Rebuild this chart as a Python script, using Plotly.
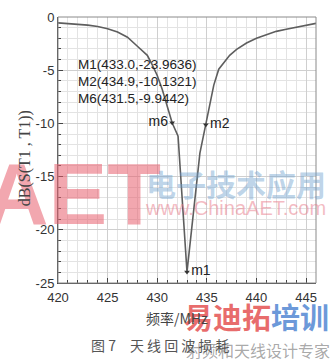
import plotly.graph_objects as go

# ---- data ----
freq_mhz = [420, 421, 422, 423, 424, 425, 426, 427, 428, 429, 429.5, 430, 430.5, 431, 431.5,
            432.1, 433.0, 434.3, 434.9, 435.7, 436.2, 436.7, 437.3, 438, 439, 440, 441, 442,
            443, 444, 445, 446]
s11_db = [-0.55, -0.6, -0.68, -0.76, -0.9, -1.1, -1.42, -1.9, -2.75, -3.6, -4.5, -5.5, -6.8,
          -8.4, -9.94, -11.2, -23.96, -12.8, -10.13, -6.4, -4.9, -4.3, -3.6, -3.05, -2.45,
          -2.0, -1.65, -1.35, -1.15, -0.95, -0.78, -0.6]

marker_names = ["m1", "m2", "m6"]
marker_freq = [433.0, 434.9, 431.5]
marker_db = [-23.9636, -10.1321, -9.9442]
marker_text_pos = ["middle right", "middle right", "middle left"]
marker_table = ["M1(433.0,-23.9636)", "M2(434.9,-10.1321)", "M6(431.5,-9.9442)"]

x_ticks = [420, 425, 430, 435, 440, 445]
y_ticks = [0, -5, -10, -15, -20, -25]

fig = go.Figure()

fig.add_trace(go.Scatter(
    x=freq_mhz, y=s11_db, mode="lines",
    line=dict(color="#5e5e5e", width=1.6),
    hoverinfo="skip", showlegend=False))

fig.add_trace(go.Scatter(
    x=marker_freq, y=marker_db, mode="markers+text",
    text=marker_names, textposition=marker_text_pos,
    textfont=dict(family="Liberation Sans, Arial", size=14, color="#222"),
    marker=dict(symbol="triangle-down", size=5, color="#333"),
    showlegend=False, cliponaxis=False))

tick_font = dict(family="Liberation Sans, Arial", size=13, color="#333")

fig.update_xaxes(
    range=[420, 446], tickvals=x_ticks, ticktext=[str(v) for v in x_ticks],
    showgrid=True, gridcolor="#cfcfcf", gridwidth=1,
    minor=dict(dtick=1, showgrid=True, gridcolor="#e3e3e3", ticks="inside", ticklen=3,
               tickcolor="#444"),
    ticks="inside", ticklen=5, tickcolor="#444",
    showline=True, linecolor="#444", linewidth=1, zeroline=False,
    tickfont=tick_font, ticklabelstandoff=2)

fig.update_yaxes(
    range=[-25, 0], tickvals=y_ticks, ticktext=[str(v) for v in y_ticks],
    showgrid=True, gridcolor="#cfcfcf", gridwidth=1,
    minor=dict(dtick=1, showgrid=True, gridcolor="#e3e3e3", ticks="inside", ticklen=3,
               tickcolor="#444"),
    ticks="inside", ticklen=5, tickcolor="#444",
    showline=True, linecolor="#444", linewidth=1, zeroline=False,
    tickfont=tick_font, ticklabelstandoff=0)


def note(x, y, text, font, xanchor="center", yanchor="middle", **kw):
    return dict(xref="paper", yref="paper", x=x, y=y, xanchor=xanchor, yanchor=yanchor,
                showarrow=False, text=text, font=font, **kw)


annotations = []
table_y = [0.823, 0.756, 0.695]
for i, t in enumerate(marker_table):
    annotations.append(note(0.069, table_y[i], t,
                            dict(family="Liberation Sans, Arial", size=13.5, color="#222"),
                            xanchor="left"))

# watermarks (drawn first so chart texts sit on top)
watermarks = [
    note(0.06, 0.335, "<b>AET</b>",
         dict(family="Liberation Sans Narrow, Liberation Sans", size=88,
              color="rgba(232,95,110,0.55)")),
    note(0.691, 0.377, "<b>电子技术应用</b>",
         dict(family="Noto Sans CJK SC", size=30, color="rgba(110,160,205,0.45)")),
    note(0.689, 0.282, "www.ChinaAET.com",
         dict(family="Liberation Sans, Arial", size=20, color="rgba(232,120,135,0.5)")),
    note(0.77, -0.125,
         "<b><span style='color:rgba(225,60,60,0.75)'>易迪拓</span>"
         "<span style='color:rgba(60,120,205,0.75)'>培训</span></b>",
         dict(family="Noto Sans CJK SC", size=29)),
    note(0.776, -0.252, "射频和天线设计专家",
         dict(family="Noto Sans CJK SC", size=16, color="rgba(120,120,120,0.65)")),
]

# axis titles / caption
titles = [
    note(-0.128, 0.469, "dB(S(T1 , T1))",
         dict(family="Liberation Serif, Times New Roman", size=16, color="#444"), textangle=-90),
    note(0.462, -0.132, "频率/MHz", dict(family="Noto Sans CJK SC", size=14, color="#444")),
    note(0.396, -0.234, "图 7　天 线 回 波 损 耗",
         dict(family="Noto Sans CJK SC", size=14, color="#555")),
]

fig.update_layout(
    width=336, height=362,
    margin=dict(l=58, r=20, t=10, b=79),
    plot_bgcolor="white", paper_bgcolor="white",
    annotations=watermarks + titles + annotations,
    shapes=[dict(type="rect", xref="paper", yref="paper", x0=0, y0=0, x1=1, y1=1,
                 line=dict(color="#8a8a8a", width=1), layer="above")],
)

fig.write_html("out.html")
